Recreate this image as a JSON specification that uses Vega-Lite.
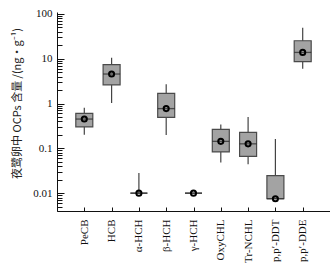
{
  "$schema": "https://vega.github.io/schema/vega-lite/v6.json",
  "autosize": "none",
  "width": 273,
  "height": 199,
  "padding": {"left": 57, "top": 12, "right": 0, "bottom": 67},
  "background": "white",
  "config": {"view": {"stroke": null}, "font": "Liberation Serif"},
  "data": {"values": [
    {"cat": "PeCB", "min": 0.20, "q1": 0.30, "median": 0.45, "q3": 0.60, "max": 0.80},
    {"cat": "HCB", "min": 1.03, "q1": 2.6, "median": 4.55, "q3": 7.4, "max": 10.5},
    {"cat": "α-HCH", "min": 0.01, "q1": 0.01, "median": 0.01, "q3": 0.01, "max": 0.028},
    {"cat": "β-HCH", "min": 0.198, "q1": 0.49, "median": 0.77, "q3": 1.69, "max": 2.68},
    {"cat": "γ-HCH", "min": 0.01, "q1": 0.01, "median": 0.01, "q3": 0.01, "max": 0.01},
    {"cat": "OxyCHL", "min": 0.048, "q1": 0.083, "median": 0.143, "q3": 0.264, "max": 0.34},
    {"cat": "Tr-NCHL", "min": 0.044, "q1": 0.066, "median": 0.126, "q3": 0.227, "max": 0.50},
    {"cat": "p,p′-DDT", "min": 0.0075, "q1": 0.0075, "median": 0.0075, "q3": 0.0246, "max": 0.161},
    {"cat": "p,p′-DDE", "min": 6.0, "q1": 8.6, "median": 13.8, "q3": 25.1, "max": 48.9}
  ]},
  "encoding": {
    "x": {
      "field": "cat", "type": "nominal", "sort": null,
      "scale": {"type": "point", "padding": 1},
      "axis": {
        "title": null, "labelAngle": -90, "labelFontSize": 11, "labelColor": "#111",
        "labelFont": "Liberation Serif", "domainColor": "#111", "tickColor": "#111",
        "tickSize": -4, "labelPadding": 12, "grid": false
      }
    }
  },
  "layer": [
    {
      "mark": {"type": "rule", "color": "#444", "strokeWidth": 1.2},
      "encoding": {
        "y": {
          "field": "min", "type": "quantitative",
          "scale": {"type": "log", "domain": [0.004, 110], "nice": false},
          "axis": {
            "title": "夜鹭卵中 OCPs 含量 /(ng·g⁻¹)",
            "titleFont": "Noto Sans CJK SC", "titleFontSize": 11, "titleFontWeight": "normal",
            "titleColor": "#222", "titlePadding": 10, "titleY": 91,
            "values": [0.004,0.005,0.006,0.007,0.008,0.009,0.01,0.02,0.03,0.04,0.05,0.06,0.07,0.08,0.09,0.1,0.2,0.3,0.4,0.5,0.6,0.7,0.8,0.9,1,2,3,4,5,6,7,8,9,10,20,30,40,50,60,70,80,90,100],
            "format": "~g",
            "labelExpr": "indexof([0.01,0.1,1,10,100], datum.value) >= 0 ? datum.label : ''",
            "labelFontSize": 11, "labelColor": "#111", "labelFont": "Liberation Serif",
            "tickSize": {"condition": {"test": "indexof([0.01,0.1,1,10,100], datum.value) >= 0", "value": -7}, "value": -5},
            "tickColor": "#111", "domainColor": "#111", "labelPadding": 12, "grid": false
          }
        },
        "y2": {"field": "max"}
      }
    },
    {
      "mark": {"type": "bar", "size": 17, "fill": "#a3a3a3", "stroke": "#4a4a4a", "strokeWidth": 1.2},
      "encoding": {
        "y": {"field": "q1", "type": "quantitative"},
        "y2": {"field": "q3"}
      }
    },
    {
      "mark": {"type": "tick", "size": 17, "thickness": 1.3, "color": "#222"},
      "encoding": {
        "y": {"field": "median", "type": "quantitative"}
      }
    },
    {
      "mark": {"type": "point", "shape": "circle", "filled": false, "size": 26, "stroke": "#000", "strokeWidth": 2, "opacity": 1},
      "encoding": {
        "y": {"field": "median", "type": "quantitative"}
      }
    }
  ]
}
